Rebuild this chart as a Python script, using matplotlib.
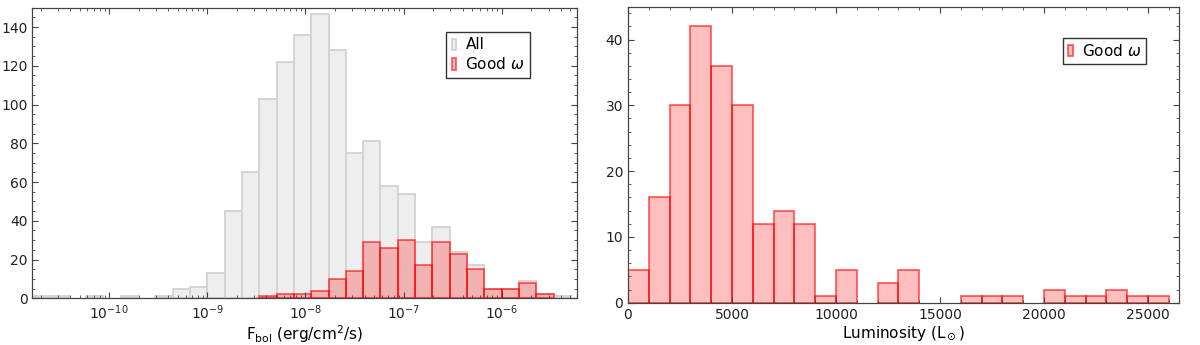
"""Bolometric flux and luminosity histograms (all sources vs. good-parallax subset)."""
import matplotlib

matplotlib.use("Agg")
import matplotlib.pyplot as plt
import numpy as np
from matplotlib.ticker import LogLocator, MultipleLocator

plt.rcParams["font.family"] = ["DejaVu Sans"]

# --- left panel: F_bol histogram, log bins (3/17 dex wide, edge on 1e-9) ---
FLUX_LOG_EDGES = -9 + np.arange(-10, 22) * 3 / 17
FLUX_ALL = [1, 1, 0, 1, 0, 1, 0, 1, 5, 6, 13, 45, 65, 103, 122, 136, 147, 128,
            75, 81, 58, 54, 29, 37, 24, 17, 5, 5, 9, 2, 1]
FLUX_GOOD = [0, 0, 0, 0, 0, 0, 0, 0, 0, 0, 0, 0, 0, 1, 2, 2, 4, 10,
             14, 29, 26, 30, 17, 29, 23, 15, 5, 5, 8, 2, 0]
FLUX_TICKS = [1e-10, 1e-9, 1e-8, 1e-7, 1e-6]

# --- right panel: luminosity histogram, 1000 L_sun bins ---
LUM_EDGES = np.arange(0, 27000, 1000)
LUM_GOOD = [5, 16, 30, 42, 36, 30, 12, 14, 12, 1, 5, 0, 3, 5, 0, 0, 1, 1, 1,
            0, 2, 1, 1, 2, 1, 1]

GRAY_FC, GRAY_EC = "#eeeeee", "#d2d2d2"
RED_FC, RED_EC = (1, 0, 0, 0.25), (1, 0, 0, 0.6)

LEG_KW = dict(fontsize=11, fancybox=False, edgecolor="#333333", framealpha=1,
              handlelength=0.3, handleheight=0.75, handletextpad=0.6,
              borderpad=0.35, labelspacing=0.25, borderaxespad=0)


def hist_bars(ax, edges, counts, fc, ec, label):
    """Step-free histogram from pre-binned counts; empty bins are skipped."""
    edges = np.asarray(edges, dtype=float)
    counts = np.asarray(counts, dtype=float)
    keep = counts > 0
    bars = ax.bar(edges[:-1][keep], counts[keep], width=np.diff(edges)[keep],
                  align="edge", facecolor=fc, edgecolor=ec, linewidth=1.3)
    bars.set_label(label)
    return bars


def style_axes(ax):
    for s in ax.spines.values():
        s.set_color("#444444")
        s.set_linewidth(0.9)
    ax.tick_params(which="both", direction="in", top=True, right=True,
                   colors="#444444", labelcolor="#222222", labelsize=10)
    ax.tick_params(which="major", length=4)
    ax.tick_params(which="minor", length=2)


fig = plt.figure(figsize=(12, 3.45), dpi=100)

# left
ax1 = fig.add_axes([0.0269, 0.1354, 0.4537, 0.8423])
flux_edges = 10.0 ** FLUX_LOG_EDGES
hist_bars(ax1, flux_edges, FLUX_ALL, GRAY_FC, GRAY_EC, "All")
hist_bars(ax1, flux_edges, FLUX_GOOD, RED_FC, RED_EC, r"Good $\omega$")
ax1.set_xscale("log")
ax1.set_xticks(FLUX_TICKS)
ax1.xaxis.set_minor_locator(LogLocator(base=10, subs=np.arange(2, 10)))
ax1.set_xlim(10 ** -10.783, 10 ** -5.236)
ax1.set_ylim(0, 150)
ax1.yaxis.set_major_locator(MultipleLocator(20))
ax1.yaxis.set_minor_locator(MultipleLocator(5))
ax1.set_xlabel(r"F$_{\rm bol}$ (erg/cm$^2$/s)", fontsize=11, labelpad=1)
style_axes(ax1)
ax1.legend(loc="upper right", bbox_to_anchor=(0.914, 0.916), **LEG_KW)

# right
ax2 = fig.add_axes([0.5233, 0.1226, 0.4594, 0.8562])
hist_bars(ax2, LUM_EDGES, LUM_GOOD, RED_FC, RED_EC, r"Good $\omega$")
ax2.set_xlim(0, 26500)
ax2.set_ylim(0, 44.9)
ax2.xaxis.set_major_locator(MultipleLocator(5000))
ax2.xaxis.set_minor_locator(MultipleLocator(1000))
ax2.yaxis.set_major_locator(MultipleLocator(10))
ax2.yaxis.set_minor_locator(MultipleLocator(2))
ax2.set_xlabel(r"Luminosity (L$_\odot$)", fontsize=11, labelpad=2)
style_axes(ax2)
ax2.legend(loc="upper right", bbox_to_anchor=(0.94, 0.897), **LEG_KW)

fig.savefig("out.png", dpi=100)
